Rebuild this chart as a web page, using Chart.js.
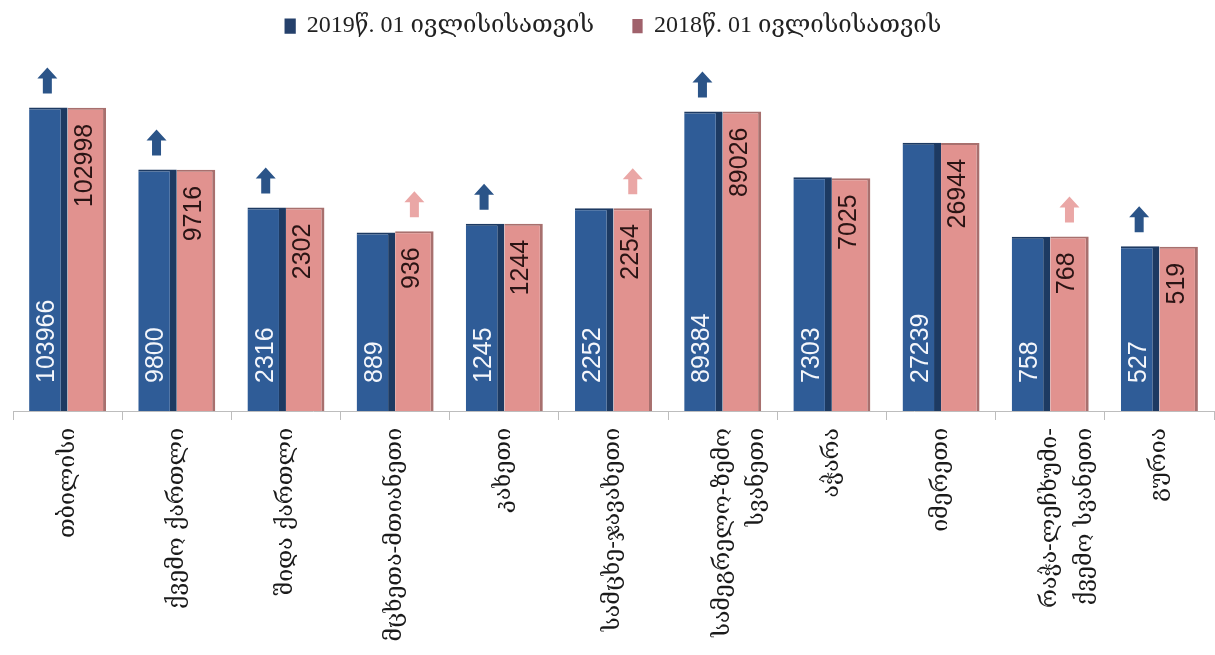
<!DOCTYPE html>
<html>
<head>
<meta charset="utf-8">
<script src="https://cdn.jsdelivr.net/npm/chart.js@4.4.1/dist/chart.umd.min.js"></script>
<style>
  body { margin: 0; background: #fff; }
  #wrap { width: 1215px; height: 655px; position: relative; }
</style>
</head>
<body>
<div id="wrap"><canvas id="myChart"></canvas></div>
<script>
// regions
const regions = [
  'თბილისი',
  'ქვემო ქართლი',
  'შიდა ქართლი',
  'მცხეთა-მთიანეთი',
  'კახეთი',
  'სამცხე-ჯავახეთი',
  ['სამეგრელო-ზემო', 'სვანეთი'],
  'აჭარა',
  'იმერეთი',
  ['რაჭა-ლეჩხუმი-', 'ქვემო სვანეთი'],
  'გურია'
];

// values
const values2019 = [103966, 9800, 2316, 889, 1245, 2252, 89384, 7303, 27239, 758, 527];
const values2018 = [102998, 9716, 2302, 936, 1244, 2254, 89026, 7025, 26944, 768, 519];

// which bar gets the up arrow (1 = yes)
const arrows2019 = [1, 1, 1, 0, 1, 0, 1, 0, 0, 0, 1];
const arrows2018 = [0, 0, 0, 1, 0, 1, 0, 0, 0, 1, 0];

const blue = '#2f5c97';
const pink = '#e1928f';

// numbers inside the bars + arrows on top
const barExtras = {
  id: 'barExtras',
  afterDatasetsDraw(chart) {
    const ctx = chart.ctx;
    const metaBlue = chart.getDatasetMeta(0);
    const metaPink = chart.getDatasetMeta(1);
    ctx.save();
    ctx.font = '25px "Liberation Sans Narrow", "Liberation Sans", sans-serif';
    ctx.textBaseline = 'middle';

    metaBlue.data.forEach((bar, i) => {
      ctx.save();
      ctx.translate(bar.x - 1, bar.base - 28);
      ctx.rotate(-Math.PI / 2);
      ctx.textAlign = 'left';
      ctx.fillStyle = '#f4f6fb';
      ctx.fillText(values2019[i], 0, 0);
      ctx.restore();
    });

    metaPink.data.forEach((bar, i) => {
      ctx.save();
      ctx.translate(bar.x - 2, bar.y + 16);
      ctx.rotate(-Math.PI / 2);
      ctx.textAlign = 'right';
      ctx.fillStyle = '#2a1414';
      ctx.fillText(values2018[i], 0, 0);
      ctx.restore();
    });

    // arrows
    function arrow(x, bottom, color) {
      const h = 26, headH = 11, headW = 10, shaftW = 4.5;
      ctx.fillStyle = color;
      ctx.beginPath();
      ctx.moveTo(x - shaftW, bottom);
      ctx.lineTo(x - shaftW, bottom - h + headH);
      ctx.lineTo(x - headW, bottom - h + headH);
      ctx.lineTo(x, bottom - h);
      ctx.lineTo(x + headW, bottom - h + headH);
      ctx.lineTo(x + shaftW, bottom - h + headH);
      ctx.lineTo(x + shaftW, bottom);
      ctx.closePath();
      ctx.fill();
    }
    metaBlue.data.forEach((bar, i) => {
      if (arrows2019[i]) arrow(bar.x - 1, bar.y - 14, '#2b5488');
    });
    metaPink.data.forEach((bar, i) => {
      if (arrows2018[i]) arrow(bar.x, bar.y - 14, '#eaa7a6');
    });
    ctx.restore();
  }
};

const data = {
  labels: regions,
  datasets: [{
    label: '2019წ. 01 ივლისისათვის',
    data: values2019,
    backgroundColor: blue,
    borderColor: '#1d3a62',
    borderWidth: { top: 2, right: 7, left: 0, bottom: 0 },
    borderSkipped: false
  }, {
    label: '2018წ. 01 ივლისისათვის',
    data: values2018,
    backgroundColor: pink,
    borderColor: '#a8706e',
    borderWidth: { top: 2, right: 3, left: 0, bottom: 0 },
    borderSkipped: false
  }]
};

const config = {
  type: 'bar',
  data: data,
  options: {
    responsive: true,
    maintainAspectRatio: false,
    animation: false,
    layout: {
      padding: { top: 5, left: 13, right: 1, bottom: 0 }
    },
    datasets: {
      bar: {
        categoryPercentage: 0.705,
        barPercentage: 1.0
      }
    },
    plugins: {
      tooltip: { enabled: false },
      legend: {
        position: 'top',
        labels: {
          boxWidth: 9,
          boxHeight: 13,
          padding: 9,
          color: '#222',
          font: { family: '"Liberation Serif", "DejaVu Serif", serif', size: 24 },
          // darker swatches and a wider gap after the first entry
          generateLabels: (chart) => {
            const items = Chart.defaults.plugins.legend.labels.generateLabels(chart);
            items[0].text = items[0].text + '     ';
            items[0].fillStyle = '#25406b';
            items[0].strokeStyle = '#25406b';
            items[1].fillStyle = '#a0626c';
            items[1].strokeStyle = '#a0626c';
            return items;
          }
        }
      }
    },
    scales: {
      x: {
        grid: {
          display: true,
          drawOnChartArea: false,
          drawTicks: true,
          tickLength: 9,
          color: '#bdbdbd',
          offset: true
        },
        border: { display: true, color: '#bdbdbd' },
        ticks: {
          maxRotation: 90,
          minRotation: 90,
          padding: 8,
          color: '#1a1a1a',
          font: { family: '"DejaVu Serif", serif', size: 23, lineHeight: 1.5 }
        },
        afterFit: (scale) => {
          scale.height = 244;
        }
      },
      y: {
        type: 'logarithmic',
        display: false,
        min: 1,
        max: 1000000
      }
    }
  },
  plugins: [barExtras]
};

const myChart = new Chart(
  document.getElementById('myChart'),
  config
);
</script>
</body>
</html>
